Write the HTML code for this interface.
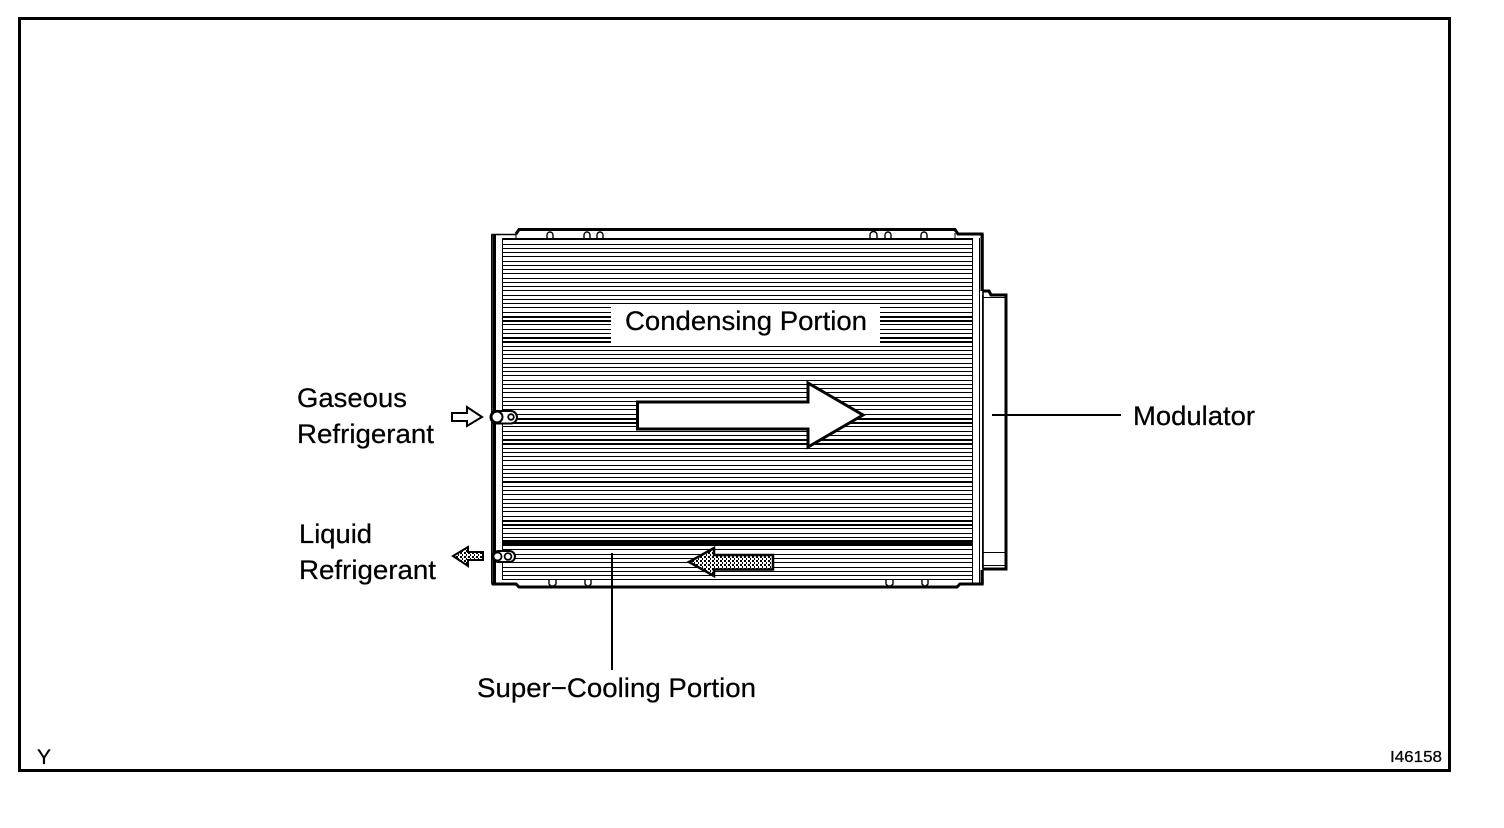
<!DOCTYPE html>
<html lang="en">
<head>
<meta charset="utf-8">
<title>Condenser diagram</title>
<style>
html,body{margin:0;padding:0;background:#fff;width:1504px;height:828px;overflow:hidden}
svg{display:block}
text{font-family:"Liberation Sans",sans-serif;fill:#000;stroke:#000;stroke-width:.25}
</style>
</head>
<body>
<svg width="1504" height="828" viewBox="0 0 1504 828" xmlns="http://www.w3.org/2000/svg">
<defs>
<pattern id="dots" width="4" height="4" patternUnits="userSpaceOnUse">
<rect width="4" height="4" fill="#fff"/>
<rect x="0" y="0" width="2" height="2" fill="#000"/>
<rect x="2" y="2" width="1" height="2" fill="#000"/>
</pattern>
</defs>
<rect width="1504" height="828" fill="#fff"/>
<!-- frame -->
<rect x="19.5" y="18.5" width="1430" height="752" fill="none" stroke="#000" stroke-width="3"/>

<!-- fin lines -->
<path shape-rendering="crispEdges" stroke="#000" stroke-width="1" fill="none" d="
M502 239.5H972M502 244.5H972M502 248.5H972M502 252.5H972M502 256.5H972M502 261.5H972M502 265.5H972M502 269.5H972M502 273.5H972M502 278.5H972M502 282.5H972M502 286.5H972M502 290.5H972M502 295.5H972M502 299.5H972M502 303.5H972M502 307.5H972M502 312.5H972
M502 324.5H972M502 329.5H972M502 333.5H972M502 346.5H972M502 350.5H972M502 354.5H972M502 358.5H972M502 363.5H972M502 367.5H972M502 371.5H972M502 375.5H972M502 380.5H972M502 384.5H972M502 388.5H972M502 392.5H972M502 397.5H972M502 401.5H972M502 405.5H972M502 409.5H972M502 414.5H972
M502 426.5H972M502 431.5H972M502 435.5H972M502 448.5H972M502 452.5H972M502 456.5H972M502 460.5H972M502 465.5H972M502 469.5H972M502 473.5H972M502 477.5H972M502 486.5H972M502 490.5H972M502 494.5H972M502 499.5H972M502 503.5H972M502 507.5H972M502 511.5H972M502 516.5H972M502 528.5H972M502 533.5H972M502 537.5H972
M502 549.5H972M502 554.5H972M502 558.5H972M502 562.5H972M502 567.5H972M502 571.5H972M502 575.5H972M502 579.5H972"/>
<path shape-rendering="crispEdges" stroke="#000" stroke-width="2" fill="none" d="M502 317H972M502 321H972M502 338H972M502 342H972M502 419H972M502 423H972M502 440H972M502 444H972M502 482H972M502 521H972M502 525H972"/>
<rect x="502" y="540" width="470" height="6" fill="#000" shape-rendering="crispEdges"/>

<!-- white label patch -->
<rect x="611" y="306" width="269" height="39" fill="#fff"/>

<!-- radiator outline -->
<path d="M983 234.5H958L955 230H519L516 234.5H492V584H516L519 587H957L960 584H983Z" fill="none" stroke="#000" stroke-width="1.6"/>
<path d="M516 234L519 229.5H955L958 234H982V291M982 570V584H960L957 587H519L516 584H492" fill="none" stroke="#000" stroke-width="3"/>
<path shape-rendering="crispEdges" stroke="#000" stroke-width="1" fill="none" d="M502.5 238V580M972.5 238V584M979.5 238V584"/>
<rect x="493" y="235" width="3" height="348" fill="#000" shape-rendering="crispEdges"/>
<rect x="491" y="235" width="1" height="348" fill="#000" shape-rendering="crispEdges"/>
<path shape-rendering="crispEdges" stroke="#000" stroke-width="1" fill="none" d="M502 238.5H972M516 235V238M955 233V238"/>

<!-- top bumps -->
<g fill="#fff" stroke="#000" stroke-width="1.4">
<path d="M547 238V235A3 3 0 0 1 553 235V238"/>
<path d="M584 238V235A3 3 0 0 1 590 235V238"/>
<path d="M597 238V235A3 3 0 0 1 603 235V238"/>
<path d="M870 238V235A3 3 0 0 1 877 235V238"/>
<path d="M885 238V235A3 3 0 0 1 891 235V238"/>
<path d="M921 238V235A3 3 0 0 1 927 235V238"/>
</g>
<!-- bottom bumps -->
<g fill="#fff" stroke="#000" stroke-width="1.4">
<path d="M549 580V584L551 586H554L556 584V580"/>
<path d="M585 580V584L587 586H589L591 584V580"/>
<path d="M886 580V584L888 586H891L893 584V580"/>
<path d="M922 580V584L924 586H926L928 584V580"/>
</g>

<!-- modulator -->
<path d="M983 291H989L991 295H1006V569H983" fill="none" stroke="#000" stroke-width="3"/>
<path shape-rendering="crispEdges" stroke="#000" stroke-width="1" fill="none" d="M982.5 295V568M983 297.5H1005M983 552.5H1005M983 565.5H1005"/>

<!-- fittings -->
<rect x="490.5" y="411" width="26.5" height="12.5" rx="6.2" fill="#fff" stroke="#000" stroke-width="2"/>
<circle cx="497" cy="417" r="5.5" fill="#fff" stroke="#000" stroke-width="2"/>
<circle cx="511" cy="417" r="2.8" fill="#fff" stroke="#000" stroke-width="1.8"/>
<rect x="493" y="551" width="22" height="11" rx="5.5" fill="#fff" stroke="#000" stroke-width="2"/>
<circle cx="497.5" cy="556.5" r="4" fill="#fff" stroke="#000" stroke-width="1.8"/>
<circle cx="508" cy="556.5" r="3.4" fill="#fff" stroke="#000" stroke-width="1.8"/>

<!-- arrows -->
<path d="M637.5 402H808V383L863 415L808 447V429H637.5Z" fill="#fff" stroke="#000" stroke-width="3"/>
<path d="M452 413H467V407L482 417L467 426V421H452Z" fill="#fff" stroke="#000" stroke-width="2"/>
<path d="M453 556L468 547V552H483V560H468V566Z" fill="url(#dots)" stroke="#000" stroke-width="2"/>
<path d="M689 562L714 548V555H773V569.5H714V576Z" fill="url(#dots)" stroke="#000" stroke-width="2.5"/>

<!-- leaders -->
<path shape-rendering="crispEdges" stroke="#000" stroke-width="2" fill="none" d="M992 415H1121M612 553V670"/>

<!-- labels -->
<text x="625" y="330" font-size="27" textLength="242" lengthAdjust="spacingAndGlyphs">Condensing Portion</text>
<text x="297" y="407" font-size="27" textLength="110" lengthAdjust="spacingAndGlyphs">Gaseous</text>
<text x="297" y="443" font-size="27" textLength="137" lengthAdjust="spacingAndGlyphs">Refrigerant</text>
<text x="299" y="543" font-size="27" textLength="73" lengthAdjust="spacingAndGlyphs">Liquid</text>
<text x="299" y="579" font-size="27" textLength="137" lengthAdjust="spacingAndGlyphs">Refrigerant</text>
<text x="1133" y="425" font-size="27" textLength="122" lengthAdjust="spacingAndGlyphs">Modulator</text>
<text x="477" y="697" font-size="27" textLength="279" lengthAdjust="spacingAndGlyphs">Super−Cooling Portion</text>
<text x="37" y="764" font-size="21" textLength="14" lengthAdjust="spacingAndGlyphs">Y</text>
<text x="1390" y="762" font-size="16" textLength="52" lengthAdjust="spacingAndGlyphs">I46158</text>
</svg>
</body>
</html>
